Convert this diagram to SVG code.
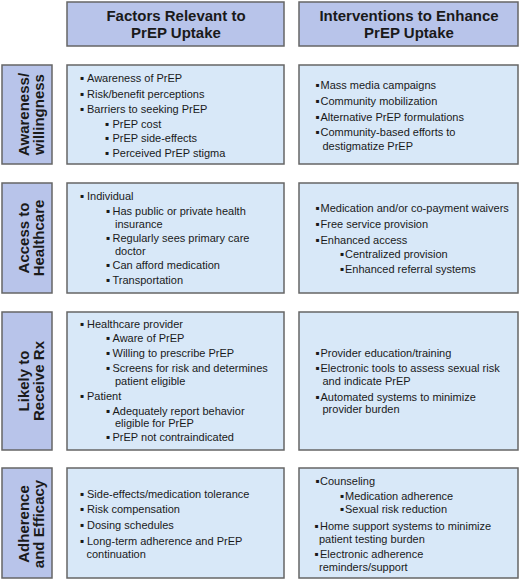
<svg xmlns="http://www.w3.org/2000/svg" width="520" height="581" viewBox="0 0 520 581">
<style>
.hdr{fill:#b8c4ea;stroke:#666;stroke-width:1.5}
.cnt{fill:#d8e8f8;stroke:#666;stroke-width:1.5}
.ht{font-family:"Liberation Sans",Arial,sans-serif;font-weight:bold;font-size:15px;fill:#1a1a1a;text-anchor:middle}
.t{font-family:"Liberation Sans",Arial,sans-serif;font-size:11px;fill:#1a1a1a}
.b text{font-family:"DejaVu Sans",sans-serif;font-size:6px;fill:#1a1a1a}
</style>
<rect width="520" height="581" fill="#fff"/>
<g id="header-factors">
<rect class="hdr" x="67" y="2" width="217" height="44"/>
<text class="ht" x="176" y="21">Factors Relevant to</text>
<text class="ht" x="176" y="38">PrEP Uptake</text>
</g>
<g id="header-interventions">
<rect class="hdr" x="299" y="2" width="219" height="44"/>
<text class="ht" x="409" y="21">Interventions to Enhance</text>
<text class="ht" x="409" y="38">PrEP Uptake</text>
</g>

<g id="label-awareness">
<rect class="hdr" x="2" y="65" width="50" height="99"/>
<text class="ht" transform="translate(28.5,114.5) rotate(-90)">Awareness/</text>
<text class="ht" transform="translate(43.5,114.5) rotate(-90)">willingness</text>
</g>
<g id="factors-awareness">
<rect class="cnt" x="67" y="65" width="217" height="99"/>
<g class="b"><text x="80" y="80">▪</text><text x="80" y="95.5">▪</text><text x="80" y="111">▪</text><text x="105" y="126">▪</text><text x="105" y="140">▪</text><text x="105" y="154.5">▪</text></g>
<text class="t" x="87" y="82">Awareness of PrEP</text>
<text class="t" x="87" y="97.5">Risk/benefit perceptions</text>
<text class="t" x="87" y="113">Barriers to seeking PrEP</text>
<text class="t" x="112.5" y="128">PrEP cost</text>
<text class="t" x="112.5" y="142">PrEP side-effects</text>
<text class="t" x="112.5" y="156.5">Perceived PrEP stigma</text>
</g>
<g id="interventions-awareness">
<rect class="cnt" x="299" y="65" width="219" height="99"/>
<g class="b"><text x="315.5" y="87">▪</text><text x="315.5" y="102.5">▪</text><text x="315.5" y="118.5">▪</text><text x="315.5" y="134">▪</text></g>
<text class="t" x="320.5" y="89">Mass media campaigns</text>
<text class="t" x="320.5" y="104.5">Community mobilization</text>
<text class="t" x="320.5" y="120.5">Alternative PrEP formulations</text>
<text class="t" x="320.5" y="136">Community-based efforts to</text>
<text class="t" x="322.5" y="150">destigmatize PrEP</text>
</g>

<g id="label-access">
<rect class="hdr" x="2" y="183" width="50" height="110"/>
<text class="ht" transform="translate(28.5,238) rotate(-90)">Access to</text>
<text class="ht" transform="translate(43.5,238) rotate(-90)">Healthcare</text>
</g>
<g id="factors-access">
<rect class="cnt" x="67" y="183" width="217" height="110"/>
<g class="b"><text x="80" y="198">▪</text><text x="106" y="212.5">▪</text><text x="106" y="239.5">▪</text><text x="106" y="267">▪</text><text x="106" y="282">▪</text></g>
<text class="t" x="87" y="200">Individual</text>
<text class="t" x="112.5" y="214.5">Has public or private health</text>
<text class="t" x="115" y="227.5">insurance</text>
<text class="t" x="112.5" y="241.5">Regularly sees primary care</text>
<text class="t" x="115" y="254.5">doctor</text>
<text class="t" x="112.5" y="269">Can afford medication</text>
<text class="t" x="112.5" y="284">Transportation</text>
</g>
<g id="interventions-access">
<rect class="cnt" x="299" y="183" width="219" height="110"/>
<g class="b"><text x="315.5" y="210">▪</text><text x="315.5" y="226">▪</text><text x="315.5" y="242">▪</text><text x="340" y="256">▪</text><text x="340" y="271">▪</text></g>
<text class="t" x="320.5" y="212">Medication and/or co-payment waivers</text>
<text class="t" x="320.5" y="228">Free service provision</text>
<text class="t" x="320.5" y="244">Enhanced access</text>
<text class="t" x="345" y="258">Centralized provision</text>
<text class="t" x="345" y="273">Enhanced referral systems</text>
</g>

<g id="label-receive">
<rect class="hdr" x="2" y="312" width="50" height="138"/>
<text class="ht" transform="translate(28.5,381) rotate(-90)">Likely to</text>
<text class="ht" transform="translate(43.5,381) rotate(-90)">Receive Rx</text>
</g>
<g id="factors-receive">
<rect class="cnt" x="67" y="312" width="217" height="138"/>
<g class="b"><text x="80" y="326">▪</text><text x="106" y="340">▪</text><text x="106" y="355">▪</text><text x="106" y="369.5">▪</text><text x="80" y="398">▪</text><text x="106" y="412.5">▪</text><text x="106" y="439">▪</text></g>
<text class="t" x="87" y="328">Healthcare provider</text>
<text class="t" x="112.5" y="342">Aware of PrEP</text>
<text class="t" x="112.5" y="357">Willing to prescribe PrEP</text>
<text class="t" x="112.5" y="371.5">Screens for risk and determines</text>
<text class="t" x="115" y="384.5">patient eligible</text>
<text class="t" x="87" y="400">Patient</text>
<text class="t" x="112.5" y="414.5">Adequately report behavior</text>
<text class="t" x="115" y="427">eligible for PrEP</text>
<text class="t" x="112.5" y="441">PrEP not contraindicated</text>
</g>
<g id="interventions-receive">
<rect class="cnt" x="299" y="312" width="219" height="138"/>
<g class="b"><text x="315.5" y="354.5">▪</text><text x="315.5" y="369.5">▪</text><text x="315.5" y="399">▪</text></g>
<text class="t" x="320.5" y="356.5">Provider education/training</text>
<text class="t" x="320.5" y="371.5">Electronic tools to assess sexual risk</text>
<text class="t" x="322.5" y="384.5">and indicate PrEP</text>
<text class="t" x="320.5" y="401">Automated systems to minimize</text>
<text class="t" x="322.5" y="413">provider burden</text>
</g>

<g id="label-adherence">
<rect class="hdr" x="2" y="468" width="50" height="110"/>
<text class="ht" transform="translate(28.5,524) rotate(-90)">Adherence</text>
<text class="ht" transform="translate(43.5,524) rotate(-90)">and Efficacy</text>
</g>
<g id="factors-adherence">
<rect class="cnt" x="67" y="468" width="217" height="110"/>
<g class="b"><text x="80" y="496">▪</text><text x="80" y="511">▪</text><text x="80" y="527">▪</text><text x="80" y="543">▪</text></g>
<text class="t" x="87" y="498">Side-effects/medication tolerance</text>
<text class="t" x="87" y="513">Risk compensation</text>
<text class="t" x="87" y="529">Dosing schedules</text>
<text class="t" x="87" y="545">Long-term adherence and PrEP</text>
<text class="t" x="86.5" y="558">continuation</text>
</g>
<g id="interventions-adherence">
<rect class="cnt" x="299" y="468" width="219" height="110"/>
<g class="b"><text x="315.5" y="482.5">▪</text><text x="340" y="498">▪</text><text x="340" y="511">▪</text><text x="314.5" y="528">▪</text><text x="314.5" y="556">▪</text></g>
<text class="t" x="320" y="484.5">Counseling</text>
<text class="t" x="345" y="500">Medication adherence</text>
<text class="t" x="345" y="513">Sexual risk reduction</text>
<text class="t" x="320" y="530">Home support systems to minimize</text>
<text class="t" x="319" y="543">patient testing burden</text>
<text class="t" x="320" y="558">Electronic adherence</text>
<text class="t" x="319" y="571">reminders/support</text>
</g>
</svg>
